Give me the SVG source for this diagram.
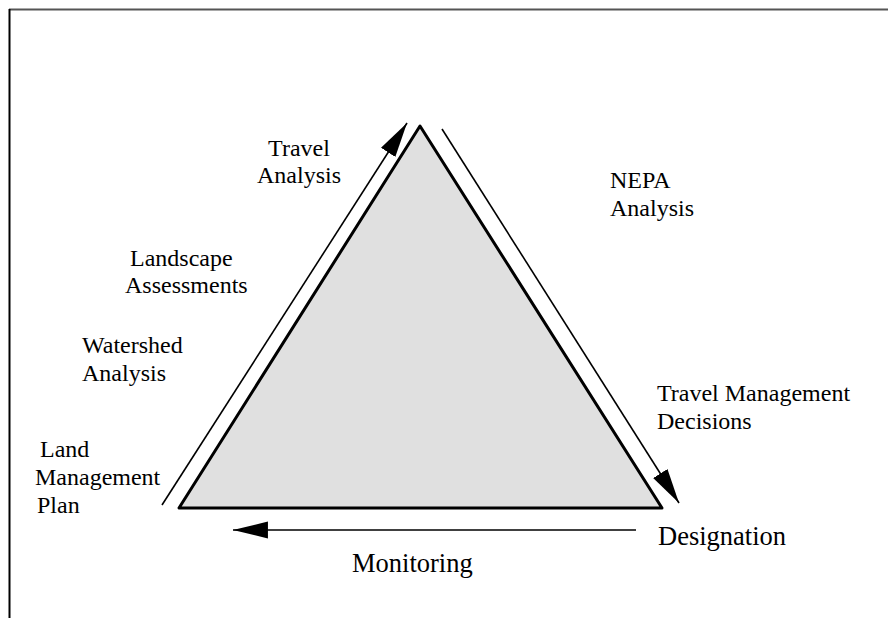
<svg xmlns="http://www.w3.org/2000/svg" width="888" height="618" viewBox="0 0 888 618">
<style>
  .lbl { font-family: "Liberation Serif", "Times New Roman", serif; font-size: 24px; fill: #000; }
  .big { font-size: 26.5px; }
  .conn { stroke: #000; stroke-width: 1.6; fill: none; }
</style>
<defs>
  <marker id="ah" markerUnits="userSpaceOnUse" markerWidth="36" markerHeight="20" viewBox="0 -9 34 18" refX="33" refY="0" orient="auto">
    <path d="M0,-8 L33,0 L0,8 z" fill="#000"/>
  </marker>
</defs>
<rect width="888" height="618" fill="#fff"/>
<g id="frame">
  <line x1="9" y1="9.5" x2="888" y2="9.5" stroke="#555" stroke-width="2"/>
  <line x1="9.5" y1="9" x2="9.5" y2="618" stroke="#000" stroke-width="2"/>
</g>
<g id="triangle">
  <polygon points="420,126 179,508 662,508" fill="#e0e0e0" stroke="#000" stroke-width="3" stroke-linejoin="round"/>
</g>
<g id="connectors">
  <line class="conn" x1="162" y1="505" x2="407" y2="123" marker-end="url(#ah)"/>
  <line class="conn" x1="442" y1="129" x2="679" y2="503" marker-end="url(#ah)"/>
  <line class="conn" x1="636" y1="530" x2="233" y2="530" marker-end="url(#ah)"/>
</g>
<g id="travel-analysis">
  <text class="lbl" x="299" y="156" text-anchor="middle">Travel</text>
  <text class="lbl" x="299" y="183" text-anchor="middle">Analysis</text>
</g>
<g id="landscape-assessments">
  <text class="lbl" x="130" y="266">Landscape</text>
  <text class="lbl" x="125" y="293">Assessments</text>
</g>
<g id="watershed-analysis">
  <text class="lbl" x="82" y="353">Watershed</text>
  <text class="lbl" x="82" y="381">Analysis</text>
</g>
<g id="land-management-plan">
  <text class="lbl" x="40" y="457">Land</text>
  <text class="lbl" x="35" y="485">Management</text>
  <text class="lbl" x="37" y="513">Plan</text>
</g>
<g id="nepa-analysis">
  <text class="lbl" x="610" y="188">NEPA</text>
  <text class="lbl" x="610" y="216">Analysis</text>
</g>
<g id="travel-management-decisions">
  <text class="lbl" x="657" y="401">Travel Management</text>
  <text class="lbl" x="657" y="429">Decisions</text>
</g>
<g id="designation">
  <text class="lbl big" x="658" y="545">Designation</text>
</g>
<g id="monitoring">
  <text class="lbl big" x="352" y="572">Monitoring</text>
</g>
</svg>
